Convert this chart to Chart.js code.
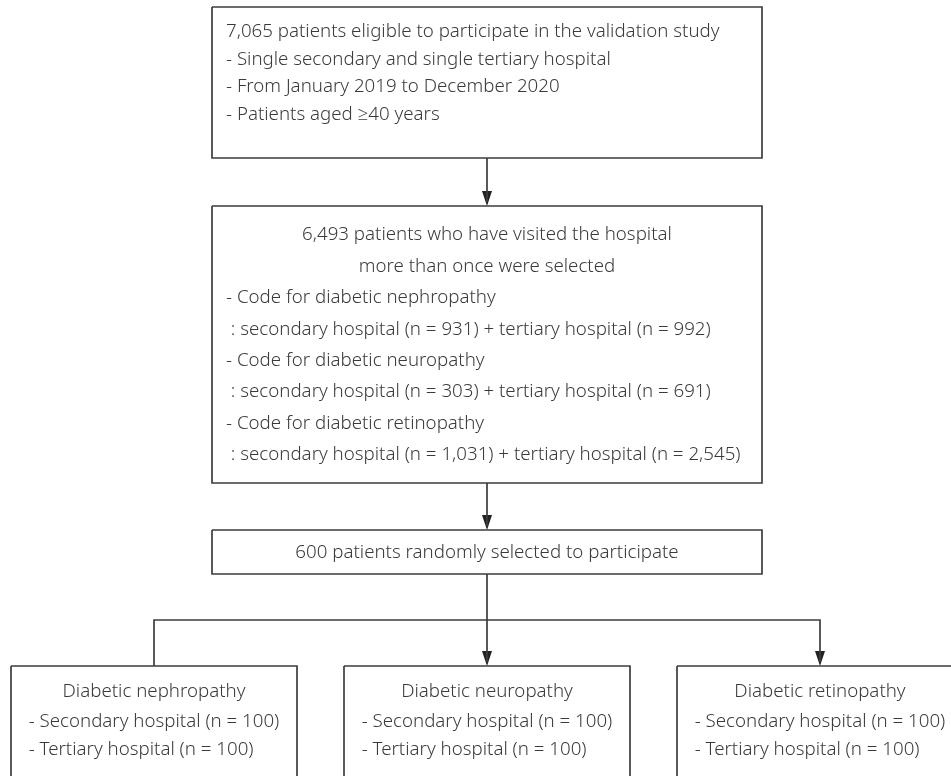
<!DOCTYPE html>
<html>
<head>
<meta charset="utf-8">
<script src="https://cdn.jsdelivr.net/npm/chart.js@4.4.1/dist/chart.umd.min.js"></script>
<style>
  html, body { margin: 0; padding: 0; background: #fff; }
</style>
</head>
<body>
<canvas id="flow" width="951" height="776"></canvas>
<script>
// --- numbers of the flow ---
const eligibleTotal = 7065;
const visitedTotal = 6493;
const sampledTotal = 600;
const studyCriteria = [
  'Single secondary and single tertiary hospital',
  'From January 2019 to December 2020',
  'Patients aged \u226540 years'
];
const complications = ['nephropathy', 'neuropathy', 'retinopathy'];
const codedSecondary = [931, 303, 1031];
const codedTertiary = [992, 691, 2545];
const sampledSecondary = [100, 100, 100];
const sampledTertiary = [100, 100, 100];

// --- layout (canvas units, y grows downward) ---
const W = 951, H = 776;
const centerX = 487;
const boxTop = { x0: 212, x1: 762, y0: 7, y1: 158 };
const boxMid = { x0: 212, x1: 762, y0: 206, y1: 483 };
const boxRand = { x0: 212, x1: 762, y0: 530, y1: 574 };
const branchY = 620;
const leafCenters = [154, 487, 820];
const leafHalf = 143;
const leafTop = 666;
const leafBottom = 820;
const textLeft = 226;
const lineColor = '#3d3d3d';
const textColor = '#3a3a3a';
const fontSpec = '300 18.7px "Noto Sans", "Open Sans", sans-serif';

const fmt = n => n.toLocaleString('en-US');

function rectPath(b) {
  return [
    { x: b.x0, y: b.y0 }, { x: b.x1, y: b.y0 },
    { x: b.x1, y: b.y1 }, { x: b.x0, y: b.y1 }, { x: b.x0, y: b.y0 }
  ];
}

function pathSet(points) {
  return {
    type: 'line',
    data: points,
    showLine: true,
    borderColor: lineColor,
    borderWidth: 1.7,
    pointRadius: 0,
    fill: false,
    tension: 0
  };
}

// arrow head drawn once, used as point style
const head = document.createElement('canvas');
head.width = 10; head.height = 15;
(function () {
  const c = head.getContext('2d');
  c.fillStyle = '#222';
  c.beginPath();
  c.moveTo(0, 0); c.lineTo(10, 0); c.lineTo(5, 15); c.closePath();
  c.fill();
})();

const datasets = [];
datasets.push(pathSet(rectPath(boxTop)));
datasets.push(pathSet(rectPath(boxMid)));
datasets.push(pathSet(rectPath(boxRand)));
datasets.push(pathSet([{ x: centerX, y: boxTop.y1 }, { x: centerX, y: boxMid.y0 - 4 }]));
datasets.push(pathSet([{ x: centerX, y: boxMid.y1 }, { x: centerX, y: boxRand.y0 - 4 }]));
datasets.push(pathSet([{ x: centerX, y: boxRand.y1 }, { x: centerX, y: leafTop - 4 }]));
datasets.push(pathSet([
  { x: leafCenters[0], y: leafTop }, { x: leafCenters[0], y: branchY },
  { x: leafCenters[2], y: branchY }, { x: leafCenters[2], y: leafTop - 4 }
]));
leafCenters.forEach(cx => {
  datasets.push(pathSet(rectPath({ x0: cx - leafHalf, x1: cx + leafHalf, y0: leafTop, y1: leafBottom })));
});

// arrow tips (the image is centred on the point, so shift up by half its height)
const tips = [
  { x: centerX, y: boxMid.y0 },
  { x: centerX, y: boxRand.y0 },
  { x: leafCenters[1], y: leafTop },
  { x: leafCenters[2], y: leafTop }
];
datasets.push({
  type: 'scatter',
  data: tips.map(t => ({ x: t.x, y: t.y - head.height / 2 })),
  pointStyle: head,
  pointRadius: 7,
  showLine: false
});

// text lines
const texts = [];
const topLine = 27.7;
texts.push({ t: fmt(eligibleTotal) + ' patients eligible to participate in the validation study', x: textLeft, y: 31.5, a: 'left' });
studyCriteria.forEach((s, i) => texts.push({ t: '- ' + s, x: textLeft, y: 31.5 + (i + 1) * topLine, a: 'left' }));

const midLine = 31.4;
const my = 235;
texts.push({ t: fmt(visitedTotal) + ' patients who have visited the hospital', x: centerX, y: my, a: 'center' });
texts.push({ t: 'more than once were selected', x: centerX, y: my + midLine, a: 'center' });
complications.forEach((c, i) => {
  const y = my + (2 + i * 2) * midLine;
  texts.push({ t: '- Code for diabetic ' + c, x: textLeft, y: y, a: 'left' });
  texts.push({
    t: ' : secondary hospital (n = ' + fmt(codedSecondary[i]) + ') + tertiary hospital (n = ' + fmt(codedTertiary[i]) + ')',
    x: textLeft, y: y + midLine, a: 'left'
  });
});

texts.push({ t: fmt(sampledTotal) + ' patients randomly selected to participate', x: centerX, y: 553, a: 'center' });

complications.forEach((c, i) => {
  const ref = '- Secondary hospital (n = ' + fmt(sampledSecondary[i]) + ')';
  texts.push({ t: 'Diabetic ' + c, x: leafCenters[i], y: 692, a: 'center' });
  texts.push({ t: ref, x: leafCenters[i], y: 722, a: 'block', ref: ref });
  texts.push({ t: '- Tertiary hospital (n = ' + fmt(sampledTertiary[i]) + ')', x: leafCenters[i], y: 750, a: 'block', ref: ref });
});

const textPlugin = {
  id: 'flowText',
  afterDatasetsDraw(chart) {
    const ctx = chart.ctx;
    const sx = chart.scales.x, sy = chart.scales.y;
    ctx.save();
    ctx.font = fontSpec;
    ctx.fillStyle = textColor;
    ctx.textBaseline = 'middle';
    texts.forEach(o => {
      let px = sx.getPixelForValue(o.x);
      const py = sy.getPixelForValue(o.y);
      if (o.a === 'block') {
        // left aligned lines, block centred on the box
        px = px - ctx.measureText(o.ref).width / 2;
        ctx.textAlign = 'left';
      } else {
        ctx.textAlign = o.a;
      }
      ctx.fillText(o.t, px, py);
    });
    ctx.restore();
  }
};

new Chart(document.getElementById('flow'), {
  type: 'scatter',
  data: { datasets: datasets },
  options: {
    responsive: false,
    animation: false,
    devicePixelRatio: 1,
    layout: { padding: 0, autoPadding: false },
    plugins: { legend: { display: false }, tooltip: { enabled: false } },
    scales: {
      x: { type: 'linear', min: 0, max: W, display: false },
      y: { type: 'linear', min: 0, max: H, reverse: true, display: false }
    }
  },
  plugins: [textPlugin]
});
</script>
</body>
</html>
